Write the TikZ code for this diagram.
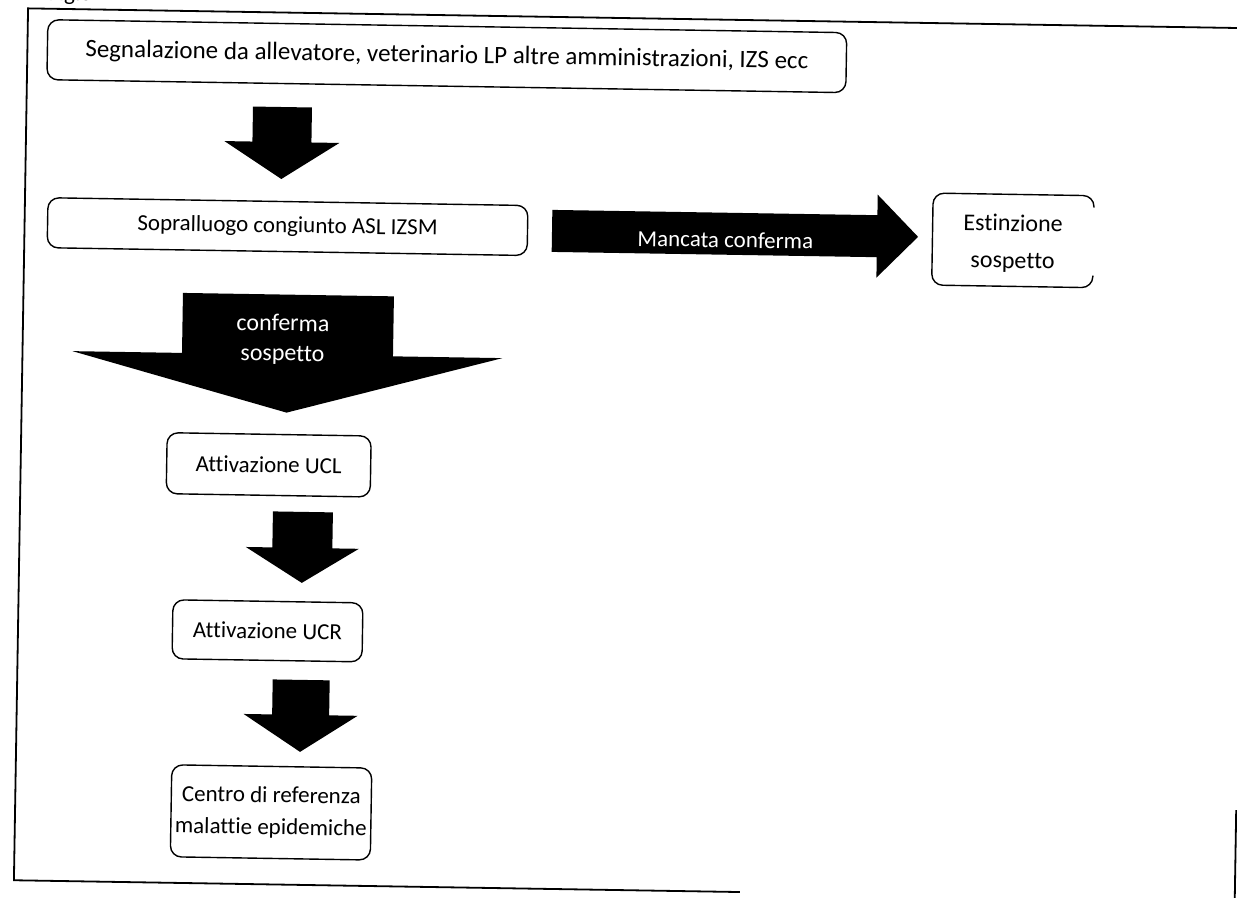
\documentclass[tikz,border=0pt]{standalone}
\usepackage{fontspec}
\setmainfont{Carlito}[RawFeature=-liga]
\newcommand{\blockdown}[6]{% cx, top, base, tip, shaft half width, head half width
  \fill[black] (#1-#5,#2) -- (#1+#5,#2) -- (#1+#5,#3) -- (#1+#6,#3) -- (#1,#4) -- (#1-#6,#3) -- (#1-#5,#3) -- cycle;}
\begin{document}
\begin{tikzpicture}[x=1pt,y=-1pt,
  box/.style={draw=black, line width=1.4pt, rounded corners=11pt, align=center, inner sep=0pt,
              font=\fontsize{23}{32}\selectfont},
  wtxt/.style={text=white, align=center, inner sep=0pt, font=\fontsize{24}{30}\selectfont},
  plain/.style={align=center, inner sep=0pt, font=\fontsize{24}{37}\selectfont},
  frameline/.style={line width=1.8pt}]
\useasboundingbox (0,0) rectangle (1237,897);
\fill[white] (0,0) rectangle (1237,897);
\clip (0,0) rectangle (1237,897);
\begin{scope}[rotate around={-0.93:(618,448)}, transform shape]
  % frame
  \draw[frameline] (1300,18) -- (21,18) -- (21,890) -- (747,890);
  \draw[frameline] (1242,800) -- (1242,910);
  \node[anchor=base west, inner sep=0pt, font=\fontsize{23}{28}\selectfont] (fig) at (41,9.5) {Fig.5};
  % boxes
  \node[box, minimum width=799pt, minimum height=60pt, font=\fontsize{25}{30}\selectfont] (seg) at (440.5,59)
    {Segnalazione da allevatore, veterinario LP altre amministrazioni, IZS ecc};
  \node[box, minimum width=480pt, minimum height=50pt] (sop) at (284,232) {Sopralluogo congiunto ASL IZSM};
  \draw[line width=1.4pt, rounded corners=11pt] (1090,200) -- (1090,188) -- (929,188) -- (929,280) -- (1090,280) -- (1090,268);
  \node[plain] (est) at (1009.5,237) {Estinzione\\sospetto};
  \node[box, minimum width=204pt, minimum height=61pt] (ucl) at (269,470.5) {Attivazione UCL};
  \node[box, minimum width=190pt, minimum height=59pt] (ucr) at (270.5,636.5) {Attivazione UCR};
  \node[box, minimum width=200pt, minimum height=92pt, font=\fontsize{23}{32}\selectfont] (cen) at (277,818)
    {Centro di referenza\\malattie epidemiche};
  % block arrows
  \blockdown{277}{112.5}{147.5}{184.5}{29.5}{57.5}
  \fill[black] (548.5,211) -- (873.6,211) -- (873.6,190.5) -- (914.6,232) -- (873.6,273.5) -- (873.6,253) -- (548.5,253) -- cycle;
  \node[wtxt, font=\fontsize{23}{30}\selectfont] (mc) at (722,238) {Mancata conferma};
  \blockdown{286}{300}{360}{418}{105.5}{215}
  \node[wtxt] (cs) at (281,345) {conferma\\sospetto};
  \blockdown{304}{517}{553}{588}{30}{56.5}
  \blockdown{305}{685}{720}{757}{28.5}{57}
\end{scope}
\end{tikzpicture}
\end{document}
